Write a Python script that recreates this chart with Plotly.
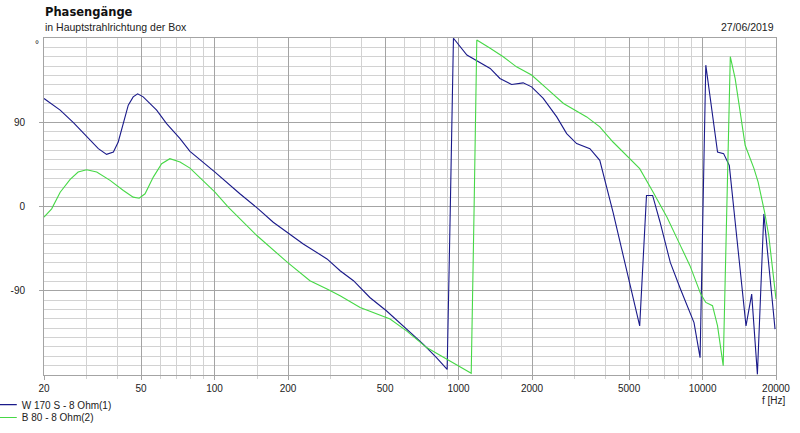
import plotly.graph_objects as go

# ---------------- data ----------------
w170_freq = [20, 23.3, 26.4, 30.4, 33.4, 36.1, 38.5, 40.3, 42.3, 44.3, 46.4, 48.4, 51.0, 57.9,
             63.6, 72.2, 79.3, 100.4, 127, 151, 174, 199, 231, 289, 327, 371, 433, 506, 612,
             716, 812, 898, 925, 953, 1082, 1348, 1478, 1650, 1840, 1992, 2224, 2526, 2774,
             3048, 3454, 3792, 4296, 4868, 5526, 5892, 6242, 6698, 7374, 8116, 9226, 9770,
             10312, 11520, 12200, 12872, 15070, 15900, 16780, 17830, 19820]
w170_phase = [115.4, 102.9, 89.7, 72.5, 61.8, 55.7, 58.2, 68.9, 90.3, 108.2, 117.1, 120.3, 117.1,
              102.9, 88.6, 72.5, 58.9, 36.8, 13.6, -2.5, -16.8, -27.5, -40, -56, -68.6, -79.3,
              -97.2, -111.4, -131, -147, -161.5, -174, -2.5, 179.7, 161.8, 147.5, 136.8, 130.4,
              132.1, 127.8, 115.4, 95.7, 77.9, 67.2, 61.8, 49.3, -6.1, -66.8, -127.5, 11.8, 11.8,
              -16.8, -59.7, -88.2, -124, -161.5, 151, 58.2, 56.5, 43.9, -127.5, -93.6, -179.3,
              -7.9, -131]

b80_freq = [20, 21.5, 23.3, 25.6, 27.6, 29.9, 32.9, 37.3, 42.3, 46.4, 49.1, 51.9, 56.1, 60.7,
            65.6, 72.2, 79.3, 100.4, 113.8, 149, 199, 246, 289, 327, 395, 524, 612, 740, 922,
            1127, 1158, 1188, 1348, 1524, 1728, 1992, 2296, 2692, 3352, 3792, 4296, 4940, 5526,
            6276, 7150, 8116, 8880, 9832, 10312, 10986, 11520, 12152, 12540, 12992, 13600,
            14950, 16250, 16900, 17960, 18680, 20000]
b80_phase = [-11.4, -2.5, 15.3, 28.9, 36.8, 39.3, 36.8, 27.9, 17.1, 10.0, 8.9, 13.6, 31.4, 45.7,
             51.1, 47.5, 41.0, 15.3, -0.7, -31, -59.7, -79.3, -88.2, -95.4, -107.9, -120.3,
             -132.9, -150.7, -165, -178.2, -2.5, 177.9, 169, 160, 149.2, 140.4, 126.1, 110, 95.7,
             85, 68.9, 52.8, 40.4, 15.3, -11.4, -41.8, -63.2, -93.6, -102.5, -106, -127.5, -170,
             -2.5, 160, 136.8, 65.4, 40.4, 26, -6.1, -31, -98.9]

x_ticks = [20, 50, 100, 200, 500, 1000, 2000, 5000, 10000, 20000]
x_minor = [30, 40, 60, 70, 80, 90, 150, 300, 400, 600, 700, 800, 900, 1500, 3000, 4000,
           6000, 7000, 8000, 9000, 15000]
y_ticks = [-90, 0, 90]
y_minor = [v for v in range(-170, 180, 10) if v % 90 != 0]

title = "Phasengänge"
subtitle = "in Hauptstrahlrichtung der Box"
date_text = "27/06/2019"

# ---------------- figure ----------------
FONT = "Liberation Sans, Arial, sans-serif"
MAJ = "#a4a4a4"
MIN = "#d2d2d2"

fig = go.Figure()
fig.add_trace(go.Scatter(x=w170_freq, y=w170_phase, mode="lines", name="W 170 S - 8 Ohm(1)",
                         line=dict(color="#1a1a8a", width=1.1), legend="legend"))
fig.add_trace(go.Scatter(x=b80_freq, y=b80_phase, mode="lines", name="B 80 - 8 Ohm(2)",
                         line=dict(color="#46d846", width=1.1), legend="legend2"))

fig.update_layout(
    width=800, height=433,
    margin=dict(l=44, r=24, t=38, b=58, autoexpand=False),
    paper_bgcolor="white", plot_bgcolor="white",
    font=dict(family=FONT, size=10, color="#222"),
    showlegend=True,
    legend=dict(x=-0.085, y=-0.088, xanchor="left", yanchor="middle",
                bgcolor="rgba(0,0,0,0)", font=dict(size=10, color="#222"), itemwidth=30),
    legend2=dict(x=-0.085, y=-0.126, xanchor="left", yanchor="middle",
                 bgcolor="rgba(0,0,0,0)", font=dict(size=10, color="#222"), itemwidth=30),
)

fig.update_xaxes(
    type="log", range=[1.30103, 4.30103], automargin=False,
    tickmode="array", tickvals=x_ticks, ticktext=[str(v) for v in x_ticks],
    showgrid=True, gridcolor=MAJ, gridwidth=1,
    ticks="outside", ticklen=4, tickcolor=MAJ,
    showline=True, linecolor=MAJ, linewidth=1, mirror=True,
    zeroline=False,
    tickfont=dict(size=10, color="#222"),
    minor=dict(tickmode="array", tickvals=x_minor, showgrid=True, gridcolor=MIN,
               ticks="outside", ticklen=3, tickcolor=MIN),
)
fig.update_yaxes(
    range=[-180, 180], automargin=False,
    tickmode="array", tickvals=y_ticks, ticktext=[str(v) for v in y_ticks],
    showgrid=True, gridcolor=MAJ, gridwidth=1,
    ticks="outside", ticklen=4, tickcolor=MAJ,
    showline=True, linecolor=MAJ, linewidth=1, mirror=True,
    zeroline=False,
    tickfont=dict(size=10, color="#222"),
    ticklabelstandoff=12,
    minor=dict(tickmode="array", tickvals=y_minor, showgrid=True, gridcolor=MIN,
               ticks="", ticklen=0),
)

ann = [
    dict(text="<b>" + title + "</b>", x=-0.0014, y=1.077, xanchor="left", yanchor="middle",
         font=dict(size=11.5, color="#111", family="DejaVu Sans, sans-serif")),
    dict(text=subtitle, x=-0.0014, y=1.0326, xanchor="left", yanchor="middle",
         font=dict(size=10.5, color="#222")),
    dict(text=date_text, x=1.0, y=1.0326, xanchor="right", yanchor="middle",
         font=dict(size=10.5, color="#222")),
    dict(text="°", x=-0.0096, y=0.982, xanchor="center", yanchor="middle",
         font=dict(size=10, color="#222")),
    dict(text="f [Hz]", x=0.9973, y=-0.0742, xanchor="center", yanchor="middle",
         font=dict(size=10, color="#222")),
]
for a in ann:
    fig.add_annotation(xref="paper", yref="paper", showarrow=False, **a)

fig.write_html("out.html", config={"displayModeBar": False},
               post_script="document.body.style.margin='0';document.body.style.overflow='hidden';")
